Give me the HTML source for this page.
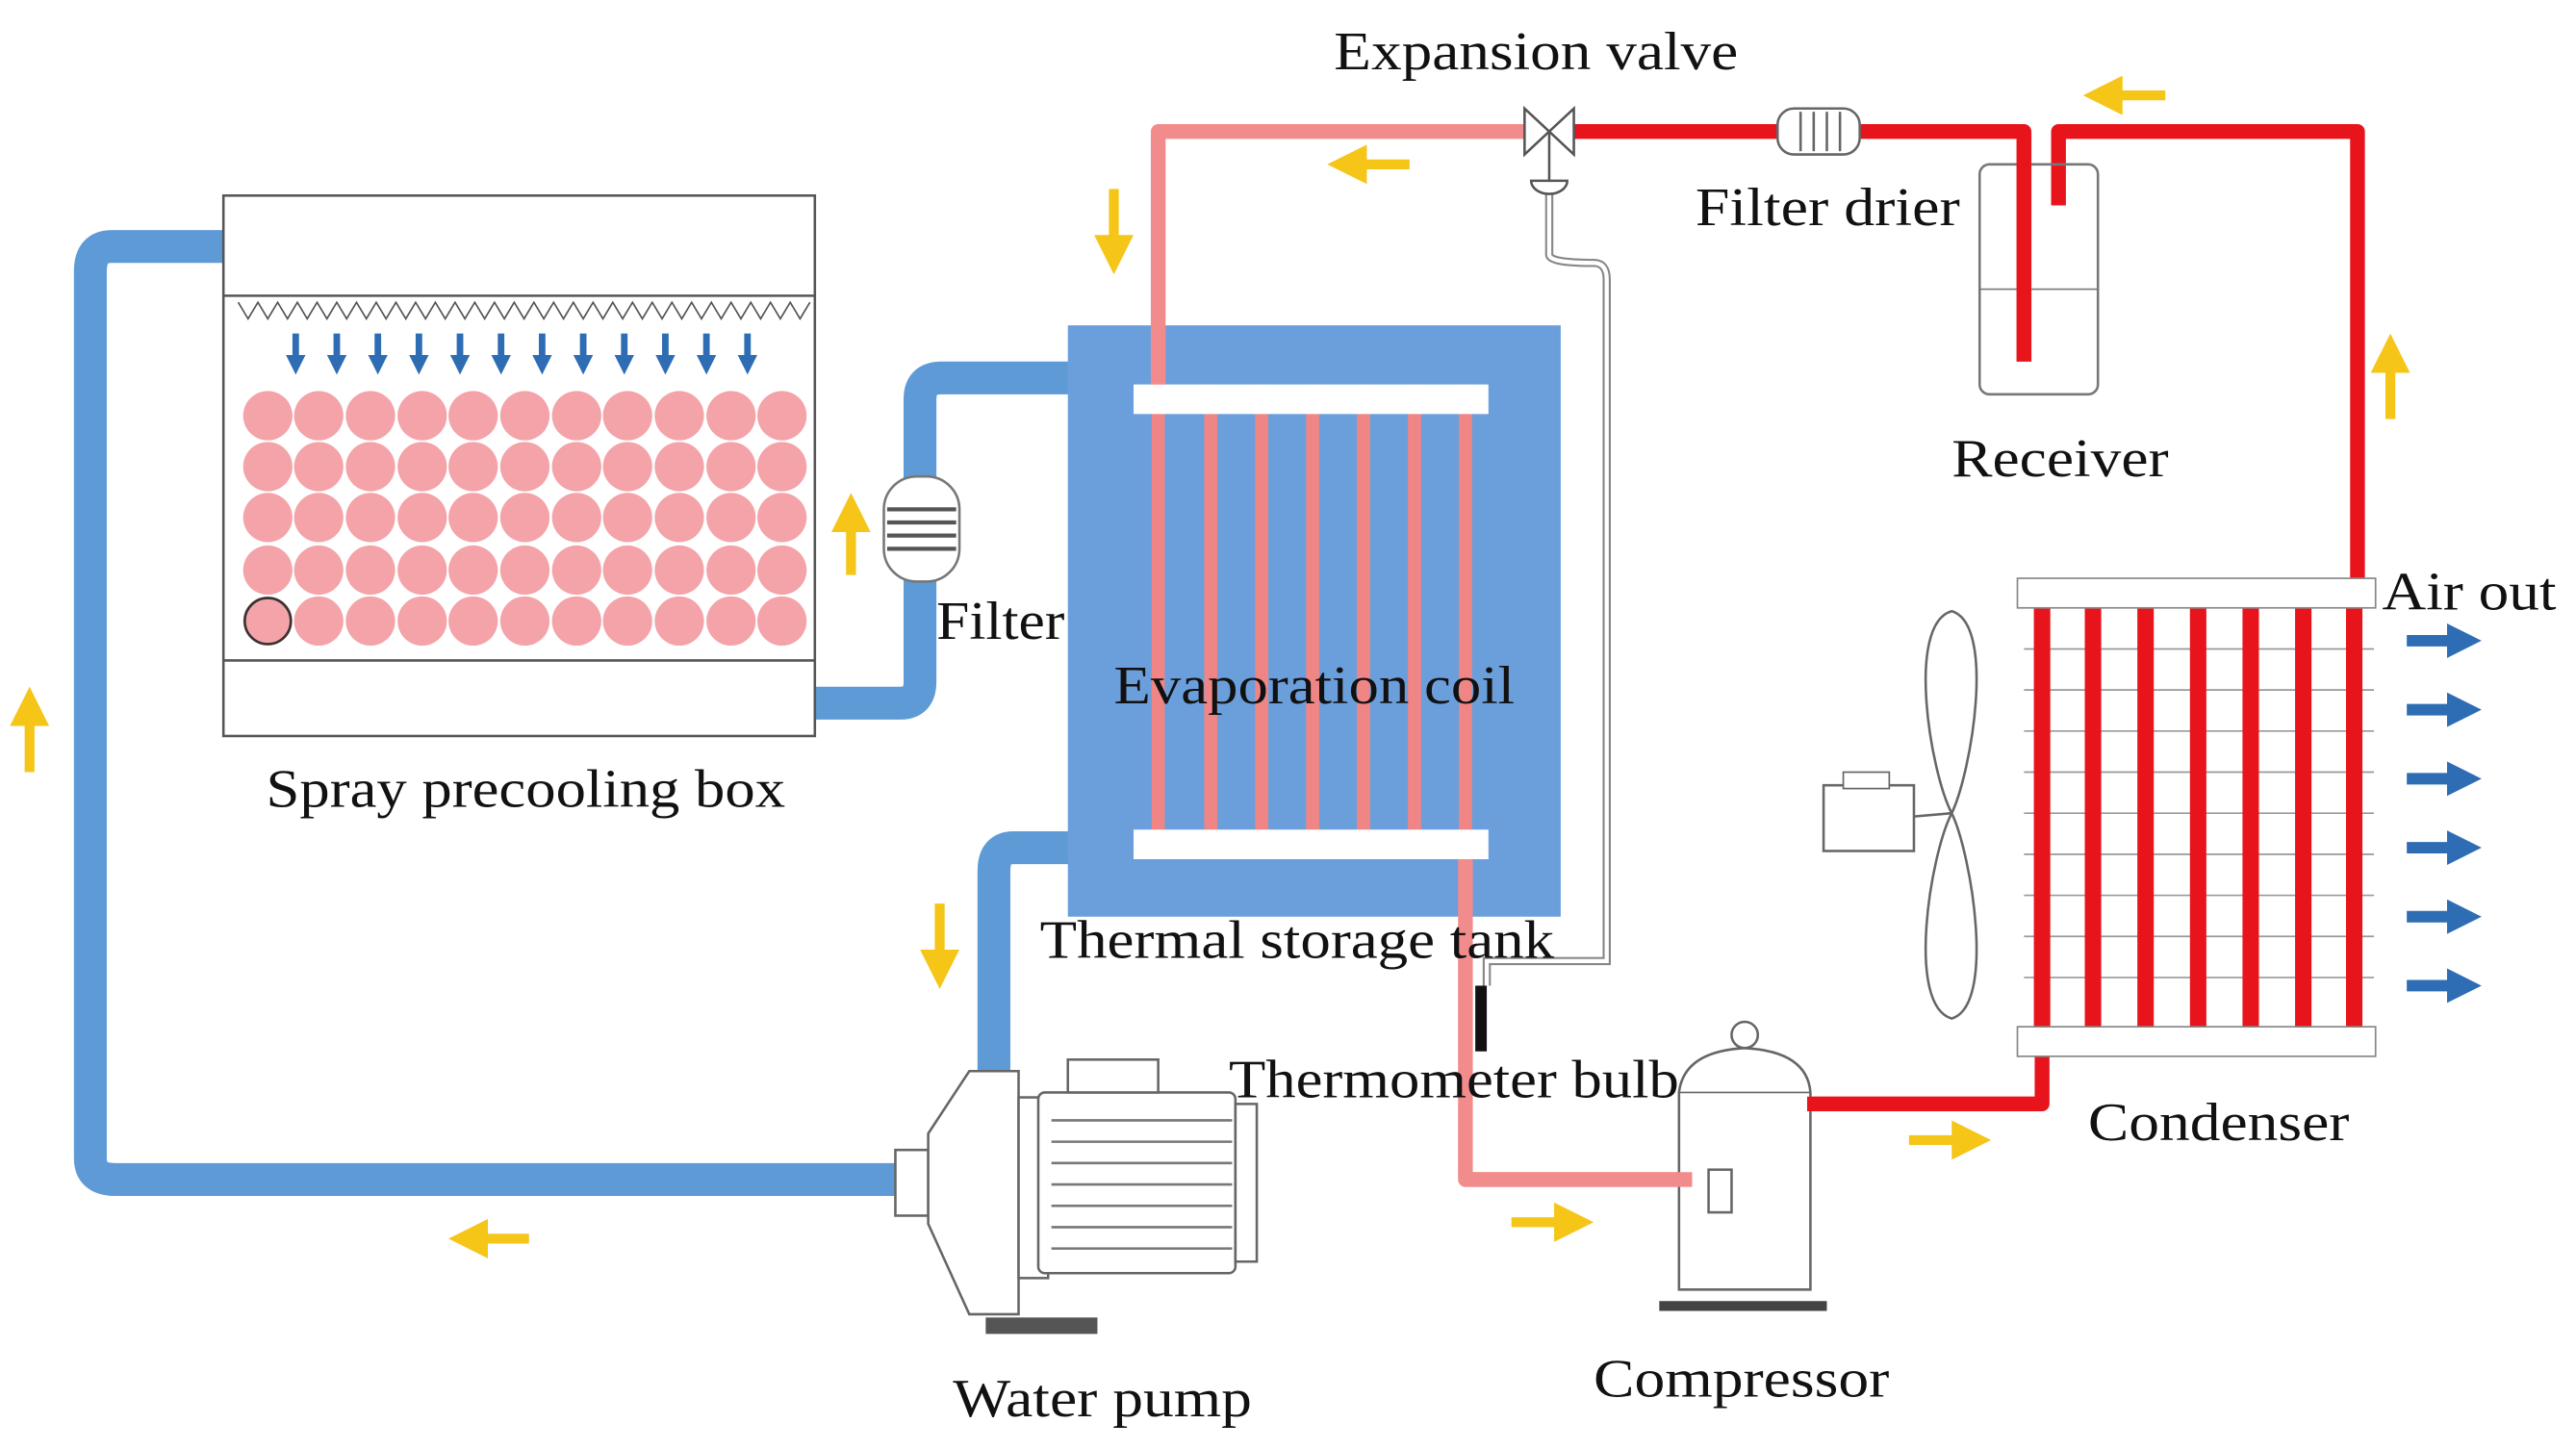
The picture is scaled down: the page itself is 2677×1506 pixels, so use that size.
<!DOCTYPE html>
<html><head><meta charset="utf-8"><style>
html,body{margin:0;padding:0;background:#fff;}
svg{display:block;}
text{font-family:"Liberation Serif",serif;font-size:33px;fill:#111;}
</style></head><body>
<svg width="2677" height="1506" viewBox="0 0 1568 882" xmlns="http://www.w3.org/2000/svg">
<defs>
<marker id="ya" markerWidth="4" markerHeight="4" refX="2" refY="2" orient="auto" markerUnits="strokeWidth"><path d="M0,0 L4,2 L0,4z" fill="#f5c518"/></marker>
<marker id="ba" markerWidth="3" markerHeight="3" refX="1.5" refY="1.5" orient="auto" markerUnits="strokeWidth"><path d="M0,0 L3,1.5 L0,3z" fill="#2e6db4"/></marker>
</defs>
<g fill="none" stroke="#5e9bd6" stroke-width="20" stroke-linejoin="round">
<path d="M136,150 H68 Q55,150 55,165 V705 Q55,718 70,718 H548"/>
<path d="M496,428 H548 Q560,428 560,415 V243 Q560,230 573,230 H652"/>
<path d="M652,516 H617 Q605,516 605,530 V655"/>
</g>
<rect x="136" y="119" width="360" height="329" fill="#fff" stroke="#555" stroke-width="1.5"/>
<line x1="136" y1="180" x2="496" y2="180" stroke="#555" stroke-width="1.5"/>
<line x1="136" y1="402" x2="496" y2="402" stroke="#555" stroke-width="1.5"/>
<path d="M145,184 l6,10 l6,-10 l6,10 l6,-10 l6,10 l6,-10 l6,10 l6,-10 l6,10 l6,-10 l6,10 l6,-10 l6,10 l6,-10 l6,10 l6,-10 l6,10 l6,-10 l6,10 l6,-10 l6,10 l6,-10 l6,10 l6,-10 l6,10 l6,-10 l6,10 l6,-10 l6,10 l6,-10 l6,10 l6,-10 l6,10 l6,-10 l6,10 l6,-10 l6,10 l6,-10 l6,10 l6,-10 l6,10 l6,-10 l6,10 l6,-10 l6,10 l6,-10 l6,10 l6,-10 l6,10 l6,-10 l6,10 l6,-10 l6,10 l6,-10 l6,10 l6,-10 l6,10 l6,-10" fill="none" stroke="#555" stroke-width="1"/>
<g stroke="#2e6db4" stroke-width="4" marker-end="url(#ba)">
<line x1="180" y1="203" x2="180" y2="222"/><line x1="205" y1="203" x2="205" y2="222"/><line x1="230" y1="203" x2="230" y2="222"/><line x1="255" y1="203" x2="255" y2="222"/><line x1="280" y1="203" x2="280" y2="222"/><line x1="305" y1="203" x2="305" y2="222"/><line x1="330" y1="203" x2="330" y2="222"/><line x1="355" y1="203" x2="355" y2="222"/><line x1="380" y1="203" x2="380" y2="222"/><line x1="405" y1="203" x2="405" y2="222"/><line x1="430" y1="203" x2="430" y2="222"/><line x1="455" y1="203" x2="455" y2="222"/>
</g>
<g fill="#f4a3a8">
<g id="row"><circle cx="163" cy="253" r="15"/><circle cx="194" cy="253" r="15"/><circle cx="225.5" cy="253" r="15"/><circle cx="257" cy="253" r="15"/><circle cx="288" cy="253" r="15"/><circle cx="319.5" cy="253" r="15"/><circle cx="351" cy="253" r="15"/><circle cx="382" cy="253" r="15"/><circle cx="413.5" cy="253" r="15"/><circle cx="445" cy="253" r="15"/><circle cx="476" cy="253" r="15"/></g>
<use href="#row" y="31"/><use href="#row" y="62"/><use href="#row" y="94"/><use href="#row" y="125"/>
</g>
<circle cx="163" cy="378" r="14" fill="#f4a3a8" stroke="#333" stroke-width="1.5"/>
<rect x="538" y="290" width="46" height="64" rx="20" fill="#fff" stroke="#777" stroke-width="1.5"/>
<g stroke="#555" stroke-width="2.5"><line x1="540" y1="310" x2="582" y2="310"/><line x1="540" y1="318" x2="582" y2="318"/><line x1="540" y1="326" x2="582" y2="326"/><line x1="540" y1="334" x2="582" y2="334"/></g>
<rect x="650" y="198" width="300" height="360" fill="#6b9fdc"/>
<g fill="#f08585"><rect x="701" y="234" width="8" height="285"/><rect x="733" y="234" width="8" height="285"/><rect x="764" y="234" width="8" height="285"/><rect x="795" y="234" width="8" height="285"/><rect x="826" y="234" width="8" height="285"/><rect x="857" y="234" width="8" height="285"/><rect x="888" y="234" width="8" height="285"/></g>
<rect x="690" y="234" width="216" height="18" fill="#fff"/>
<rect x="690" y="505" width="216" height="18" fill="#fff"/>
<g fill="none" stroke="#f28b8b" stroke-width="9" stroke-linejoin="round">
<path d="M705,234 V80 H930"/>
<path d="M892,523 V718 H1030"/>
</g>
<g fill="none" stroke="#e8141c" stroke-width="9" stroke-linejoin="round">
<path d="M955,80 H1232 V220"/>
<path d="M1253,125 V80 H1435 V355"/>
<path d="M1100,672 H1243 V643"/>
</g>
<path d="M943,118 V155 Q943,160 970,160 Q978,160 978,170 V585 H905 V600" fill="none" stroke="#888" stroke-width="5"/>
<path d="M943,118 V155 Q943,160 970,160 Q978,160 978,170 V585 H905 V600" fill="none" stroke="#fff" stroke-width="2.5"/>
<rect x="898" y="600" width="7" height="40" fill="#111"/>
<path d="M928,66 L958,94 L958,66 L928,94 Z" fill="#fff" stroke="#555" stroke-width="1.5"/>
<line x1="943" y1="80" x2="943" y2="110" stroke="#555" stroke-width="1.5"/>
<path d="M932,110 h22 a11,8 0 0 1 -22,0z" fill="#fff" stroke="#555" stroke-width="1.5"/>
<rect x="1082" y="66" width="50" height="28" rx="10" fill="#fff" stroke="#666" stroke-width="1.5"/>
<g stroke="#666" stroke-width="1.5"><line x1="1096" y1="68" x2="1096" y2="92"/><line x1="1104" y1="68" x2="1104" y2="92"/><line x1="1112" y1="68" x2="1112" y2="92"/><line x1="1120" y1="68" x2="1120" y2="92"/></g>
<rect x="1205" y="100" width="72" height="140" rx="6" fill="none" stroke="#777" stroke-width="1.5"/>
<line x1="1205" y1="176" x2="1277" y2="176" stroke="#777"/>
<path d="M1232,80 V220" stroke="#e8141c" stroke-width="9"/>
<g stroke="#999" stroke-width="1"><line x1="1232" y1="395" x2="1445" y2="395"/><line x1="1232" y1="420" x2="1445" y2="420"/><line x1="1232" y1="445" x2="1445" y2="445"/><line x1="1232" y1="470" x2="1445" y2="470"/><line x1="1232" y1="495" x2="1445" y2="495"/><line x1="1232" y1="520" x2="1445" y2="520"/><line x1="1232" y1="545" x2="1445" y2="545"/><line x1="1232" y1="570" x2="1445" y2="570"/><line x1="1232" y1="595" x2="1445" y2="595"/></g>
<g fill="#e8141c"><rect x="1238" y="365" width="10" height="265"/><rect x="1269" y="365" width="10" height="265"/><rect x="1301" y="365" width="10" height="265"/><rect x="1333" y="365" width="10" height="265"/><rect x="1365" y="365" width="10" height="265"/><rect x="1397" y="365" width="10" height="265"/><rect x="1428" y="365" width="10" height="265"/></g>
<rect x="1228" y="352" width="218" height="18" fill="#fff" stroke="#888"/>
<rect x="1228" y="625" width="218" height="18" fill="#fff" stroke="#888"/>
<path d="M1188,372 C1160,380 1175,470 1188,495 C1200,470 1215,380 1188,372Z" fill="#fff" stroke="#666" stroke-width="1.5"/>
<path d="M1188,620 C1160,612 1175,520 1188,495 C1200,520 1215,612 1188,620Z" fill="#fff" stroke="#666" stroke-width="1.5"/>
<rect x="1110" y="478" width="55" height="40" fill="#fff" stroke="#666" stroke-width="1.5"/>
<rect x="1122" y="470" width="28" height="10" fill="#fff" stroke="#666"/>
<line x1="1165" y1="497" x2="1188" y2="495" stroke="#666" stroke-width="1.5"/>
<g stroke="#2e6db4" stroke-width="7" marker-end="url(#ba)">
<line x1="1465" y1="390" x2="1500" y2="390"/><line x1="1465" y1="432" x2="1500" y2="432"/><line x1="1465" y1="474" x2="1500" y2="474"/><line x1="1465" y1="516" x2="1500" y2="516"/><line x1="1465" y1="558" x2="1500" y2="558"/><line x1="1465" y1="600" x2="1500" y2="600"/>
</g>
<g fill="#fff" stroke="#666" stroke-width="1.5">
<rect x="545" y="700" width="20" height="40"/>
<path d="M565,690 L590,652 H620 V800 H590 L565,745Z"/>
<rect x="620" y="668" width="18" height="110"/>
<rect x="632" y="665" width="120" height="110" rx="4"/>
<path d="M752,672 H765 V768 H752Z"/>
<rect x="650" y="645" width="55" height="20"/>
</g>
<g stroke="#777" stroke-width="1.5"><line x1="640" y1="682" x2="750" y2="682"/><line x1="640" y1="695" x2="750" y2="695"/><line x1="640" y1="708" x2="750" y2="708"/><line x1="640" y1="721" x2="750" y2="721"/><line x1="640" y1="734" x2="750" y2="734"/><line x1="640" y1="747" x2="750" y2="747"/><line x1="640" y1="760" x2="750" y2="760"/></g>
<rect x="600" y="802" width="68" height="10" fill="#555"/>
<g fill="#fff" stroke="#666" stroke-width="1.5">
<circle cx="1062" cy="630" r="8"/>
<path d="M1022,665 Q1025,640 1062,638 Q1100,640 1102,665 V785 H1022Z"/>
<rect x="1040" y="712" width="14" height="26"/>
</g>
<line x1="1022" y1="665" x2="1102" y2="665" stroke="#666"/>
<rect x="1010" y="792" width="102" height="6" fill="#444"/>
<path d="M892,718 H1030" stroke="#f28b8b" stroke-width="9"/>
<path d="M1100,672 H1243" stroke="#e8141c" stroke-width="9"/>
<g stroke="#f5c518" stroke-width="6" marker-end="url(#ya)">
<line x1="18" y1="470" x2="18" y2="430"/>
<line x1="518" y1="350" x2="518" y2="312"/>
<line x1="322" y1="754" x2="285" y2="754"/>
<line x1="572" y1="550" x2="572" y2="590"/>
<line x1="678" y1="115" x2="678" y2="155"/>
<line x1="858" y1="100" x2="820" y2="100"/>
<line x1="1318" y1="58" x2="1280" y2="58"/>
<line x1="1455" y1="255" x2="1455" y2="215"/>
<line x1="920" y1="744" x2="958" y2="744"/>
<line x1="1162" y1="694" x2="1200" y2="694"/>
</g>
<text x="812" y="42" textLength="246" lengthAdjust="spacingAndGlyphs">Expansion valve</text>
<text x="1032" y="137" textLength="161" lengthAdjust="spacingAndGlyphs">Filter drier</text>
<text x="1188" y="290" textLength="132" lengthAdjust="spacingAndGlyphs">Receiver</text>
<text x="1450" y="371" textLength="106" lengthAdjust="spacingAndGlyphs">Air out</text>
<text x="570" y="389" textLength="78" lengthAdjust="spacingAndGlyphs">Filter</text>
<text x="678" y="428" textLength="244" lengthAdjust="spacingAndGlyphs">Evaporation coil</text>
<text x="162" y="491" textLength="316" lengthAdjust="spacingAndGlyphs">Spray precooling box</text>
<text x="633" y="583" textLength="313" lengthAdjust="spacingAndGlyphs">Thermal storage tank</text>
<text x="748" y="668" textLength="274" lengthAdjust="spacingAndGlyphs">Thermometer bulb</text>
<text x="1271" y="694" textLength="159" lengthAdjust="spacingAndGlyphs">Condenser</text>
<text x="970" y="850" textLength="180" lengthAdjust="spacingAndGlyphs">Compressor</text>
<text x="580" y="862" textLength="182" lengthAdjust="spacingAndGlyphs">Water pump</text>
</svg>
</body></html>
